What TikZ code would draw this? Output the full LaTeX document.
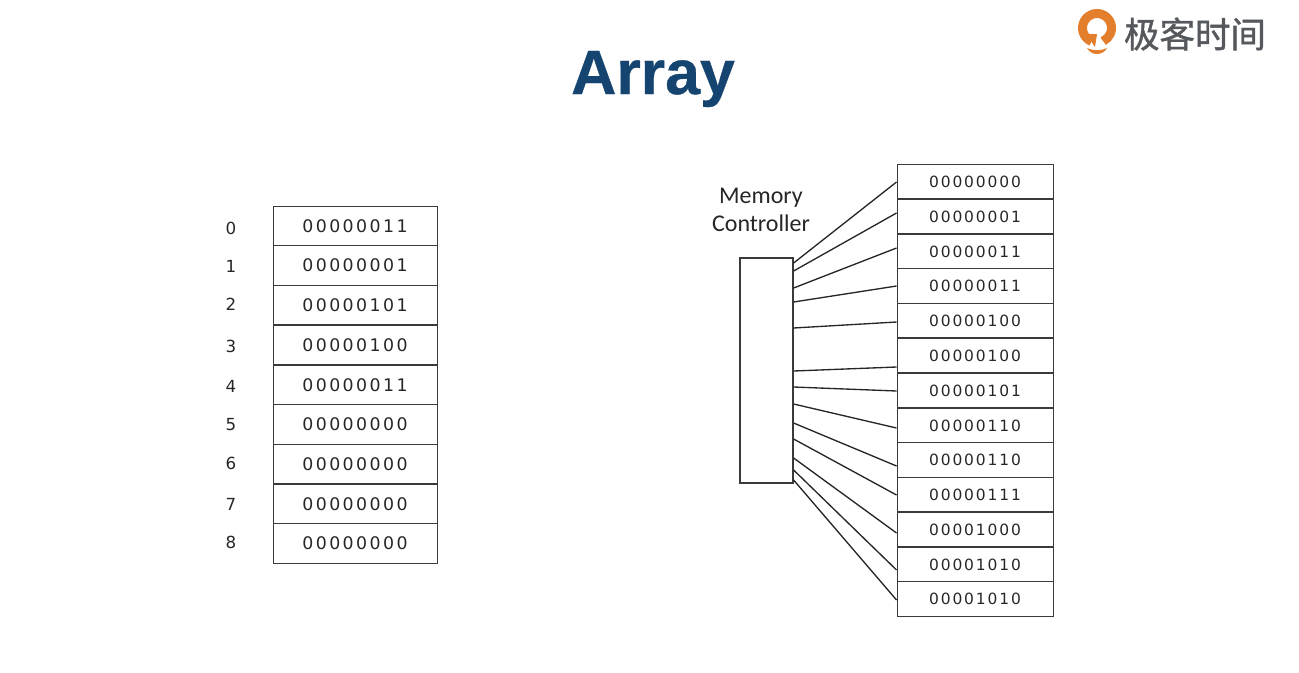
\documentclass[tikz,border=0pt]{standalone}
\usepackage{fontspec}
\setmainfont{DejaVu Sans}
\newfontfamily\titlefont[FakeBold=0.6]{Liberation Sans Bold}
\newfontfamily\ctlfont{Carlito}
\newfontfamily\bitfont[LetterSpace=14]{DejaVu Sans}
\newfontfamily\membitfont[LetterSpace=12]{DejaVu Sans}
\newfontfamily\cjk[FakeBold=1.2]{Noto Sans CJK SC}
\usetikzlibrary{calc}
\definecolor{titleblue}{HTML}{14446F}
\definecolor{logogray}{HTML}{55585C}
\definecolor{logoorange}{HTML}{E37F2C}
\definecolor{linegray}{HTML}{3A3A3A}
\tikzset{
  cell/.style={draw=linegray, line width=0.7pt, inner sep=0pt, text=black!85},
  arraycell/.style={cell, minimum width=123pt, minimum height=29.7pt, font=\bitfont\fontsize{13}{15}\selectfont},
  memcell/.style={cell, minimum width=117pt, minimum height=26.1pt, font=\membitfont\fontsize{11.6}{14}\selectfont},
  idxlabel/.style={font=\fontsize{12.5}{14}\selectfont, text=black!85},
  wire/.style={draw=black!85, line width=1pt}
}
\begin{document}
\begin{tikzpicture}[x=0.75pt, y=-0.75pt]
    \useasboundingbox (0,0) rectangle (1299,672);

    % Title
    \node[font=\titlefont\fontsize{47}{50}\selectfont, text=titleblue] (title) at (653,79) {Array};

    % Logo
    \draw[logoorange, line width=6.75pt] (1097,28) ++(112:14.5) arc[start angle=112, end angle=425, radius=14.5];
    \fill[logoorange] (1086,34) -- (1097,34) -- (1095,47) -- cycle;
    \fill[logoorange] (1087,48) .. controls (1094,51) and (1100,51) .. (1107,48) .. controls (1103,56) and (1091,56) .. (1087,48) -- cycle;
    \node[font=\cjk\fontsize{26.6}{28}\selectfont, text=logogray] (logo) at (1195,34) {极客时间};

    % Array on the left
    \foreach \i/\y/\bits/\ly in {0/226/00000011/228, 1/265.5/00000001/266, 2/305/00000101/304,
        3/345/00000100/346, 4/385/00000011/386, 5/424.5/00000000/425,
        6/464/00000000/463, 7/504/00000000/504, 8/543.5/00000000/542} {
      \node[arraycell] (arr\i) at (355,\y) {\bits};
      \node[idxlabel] (idx\i) at (231,\ly) {\i};
    }

    % Memory on the right
    \foreach \i/\y/\bits in {1/181.5/00000000, 2/216.5/00000001, 3/251.5/00000011, 4/286/00000011,
        5/320.5/00000100, 6/355.5/00000100, 7/390.5/00000101, 8/425.5/00000110,
        9/460/00000110, 10/494.5/00000111, 11/529.5/00001000, 12/564.5/00001010, 13/599/00001010} {
      \node[memcell] (mem\i) at (975,\y) {\bits};
    }

    % Controller and its wires
    \node[draw=linegray, line width=0.9pt, minimum width=39.75pt, minimum height=168.75pt, inner sep=0pt] (ctrl) at (766.5,370.5) {};
    \node[font=\ctlfont\fontsize{18}{21}\selectfont, align=center, text=black!85] (ctrllabel) at (761,209.5) {Memory\\Controller};
    \foreach \i/\a/\b in {1/-107.5/0.5, 2/-99.5/-3.5, 3/-82.5/-3.5, 4/-68.5/0, 5/-42.5/1.5,
        6/0.5/11.5, 7/16.5/0.5, 8/33.5/2.5, 9/52.5/6, 10/68.5/0.5, 11/87.5/3.5, 12/99.5/5.5, 13/109.5/1} {
      \draw[wire] ($(ctrl.east)+(0,\a)$) -- ($(mem\i.west)+(0,\b)$);
    }
\end{tikzpicture}
\end{document}
